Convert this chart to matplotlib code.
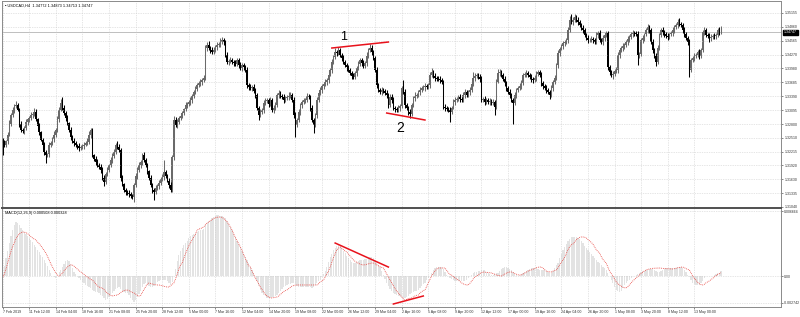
import matplotlib.pyplot as plt
import numpy as np

plt.rcParams['font.family'] = ['Liberation Sans', 'DejaVu Sans']

chart_title = "\u25aa USDCAD,H4  1.34772 1.34873 1.34713 1.34747"
macd_title = "MACD(12,26,9) 0.000508 0.000328"

# H4 closes, pips above 1.30000
close_pips = [
    240, 236, 244, 257, 280, 299, 310, 318, 320, 310, 280, 267, 266, 272, 284,
    290, 293, 299, 302, 306, 290, 276, 262, 246, 235, 220, 214, 216, 236, 240,
    248, 257, 267, 290, 310, 325, 315, 303, 293, 282, 268, 253, 245, 240, 235,
    233, 229, 231, 233, 236, 240, 242, 257, 267, 214, 206, 200, 193, 188, 183,
    166, 157, 175, 183, 193, 204, 212, 221, 236, 232, 225, 166, 152, 140, 136,
    134, 131, 128, 125, 151, 170, 183, 192, 200, 214, 203, 193, 180, 166, 151,
    140, 136, 144, 148, 155, 163, 168, 178, 170, 160, 151, 140, 210, 289, 278,
    285, 293, 298, 303, 312, 320, 322, 326, 331, 340, 348, 355, 363, 366, 369,
    374, 378, 441, 448, 442, 437, 433, 438, 443, 447, 450, 454, 458, 454, 426,
    412, 414, 416, 412, 409, 407, 416, 405, 399, 405, 400, 395, 363, 358, 356,
    359, 350, 342, 314, 299, 305, 310, 325, 328, 331, 323, 331, 310, 315, 320,
    342, 346, 340, 337, 331, 335, 337, 340, 342, 331, 300, 278, 289, 305, 320,
    327, 330, 331, 339, 337, 315, 289, 278, 299, 331, 345, 352, 360, 365, 369,
    373, 385, 395, 412, 422, 433, 431, 437, 426, 420, 412, 405, 400, 395, 388,
    382, 380, 388, 399, 407, 416, 409, 403, 410, 425, 437, 441, 433, 420, 395,
    363, 352, 348, 352, 350, 346, 342, 320, 338, 331, 314, 312, 310, 314, 318,
    356, 348, 320, 314, 306, 301, 320, 335, 340, 342, 348, 352, 356, 358, 360,
    359, 362, 384, 390, 382, 378, 376, 375, 373, 369, 316, 314, 312, 310, 306,
    315, 327, 331, 333, 337, 334, 331, 342, 348, 342, 348, 352, 365, 378, 382,
    384, 380, 376, 331, 333, 327, 331, 327, 329, 325, 327, 316, 370, 388, 390,
    384, 375, 367, 356, 348, 342, 331, 325, 342, 352, 356, 360, 367, 384, 386,
    388, 384, 380, 376, 373, 378, 386, 390, 384, 367, 360, 356, 352, 348, 342,
    356, 370, 378, 405, 430, 440, 445, 451, 454, 458, 480, 501, 496, 501, 507,
    500, 496, 490, 484, 479, 469, 462, 458, 458, 460, 458, 454, 469, 473, 458,
    454, 462, 469, 472, 401, 390, 384, 386, 392, 395, 426, 437, 441, 445, 448,
    454, 460, 465, 471, 473, 472, 471, 426, 429, 458, 462, 470, 479, 486, 479,
    454, 437, 425, 412, 441, 469, 479, 475, 470, 467, 465, 470, 473, 479, 486,
    490, 496, 492, 490, 479, 470, 462, 454, 395, 416, 420, 424, 426, 433, 424,
    437, 475, 479, 469, 467, 462, 465, 467, 466, 469, 479, 475, 475,
]
first_open = 1.32470

# wick lengths in pips
upper_wick = [
    4, 6, 3, 5, 8, 4, 6, 5, 9, 4, 3, 6, 5, 4, 7, 3, 5, 6, 4, 8,
    5, 3, 6, 4, 5, 7, 4, 3, 6, 5, 4, 8, 5, 6, 7, 9, 12, 5, 4, 6,
    3, 5, 4, 6, 5, 3, 7, 4, 5, 6, 4, 8, 9, 5, 4, 3, 6, 5, 4, 7,
    5, 6, 4, 5, 3, 6, 7, 5, 4, 8, 5, 4, 6, 3, 5, 4, 6, 5, 3, 4,
    6, 5, 7, 4, 5, 6, 4, 5, 3, 6, 4, 5, 7, 4, 6, 5, 6, 26, 5, 4,
    5, 6, 4, 8, 6, 5, 4, 6, 5, 3, 6, 4, 5, 7, 4, 5, 6, 4, 5, 6,
    4, 7, 6, 5, 8, 4, 6, 5, 4, 7, 5, 8, 6, 4, 5, 6, 4, 7, 5, 4,
    6, 5, 4, 7, 5, 4, 6, 5, 3, 6, 4, 5, 7, 4, 5, 6, 4, 5, 7, 4,
    5, 6, 4, 5, 7, 4, 6, 5, 4, 6, 5, 4, 7, 5, 4, 6, 5, 4, 6, 5,
    4, 6, 5, 7, 4, 5, 6, 4, 5, 6, 4, 7, 5, 4, 6, 5, 7, 4, 6, 5,
    8, 5, 7, 4, 5, 6, 4, 5, 6, 4, 5, 7, 4, 5, 6, 4, 5, 6, 4, 7,
    5, 8, 6, 4, 5, 6, 4, 5, 7, 4, 5, 6, 4, 5, 6, 7, 4, 5, 6, 4,
    5, 17, 6, 4, 5, 6, 4, 5, 7, 4, 5, 6, 4, 5, 6, 4, 5, 7, 9, 5,
    6, 4, 5, 6, 4, 5, 7, 4, 5, 6, 4, 5, 6, 4, 5, 7, 4, 5, 6, 4,
    5, 6, 4, 12, 7, 5, 4, 6, 5, 4, 6, 5, 4, 7, 5, 6, 4, 5, 8, 6,
    4, 5, 6, 4, 5, 7, 4, 5, 6, 4, 5, 6, 7, 4, 5, 6, 4, 5, 6, 4,
    5, 7, 4, 5, 6, 4, 5, 6, 4, 5, 6, 4, 7, 5, 6, 4, 5, 6, 4, 5,
    6, 8, 13, 5, 7, 4, 6, 5, 4, 6, 5, 4, 7, 5, 6, 4, 5, 6, 4, 7,
    5, 6, 4, 5, 6, 4, 5, 6, 4, 5, 6, 4, 5, 7, 4, 5, 6, 4, 5, 6,
    4, 5, 6, 4, 5, 6, 4, 5, 7, 4, 5, 6, 4, 5, 6, 4, 5, 6, 4, 5,
    6, 4, 5, 6, 4, 5, 7, 9, 5, 4, 6, 5, 4, 6, 5, 4, 6, 5, 4, 6,
    5, 4, 6, 5, 4, 6, 5, 4, 6, 5, 4, 6, 12,
]
lower_wick = [
    25, 5, 4, 6, 3, 5, 4, 6, 5, 3, 6, 4, 5, 7, 4, 6, 5, 4, 6, 5,
    4, 6, 5, 3, 7, 5, 17, 4, 6, 5, 4, 6, 5, 4, 6, 3, 5, 4, 6, 5,
    4, 6, 5, 7, 4, 5, 6, 4, 5, 6, 3, 5, 4, 6, 5, 4, 7, 5, 4, 6,
    5, 8, 4, 6, 5, 4, 6, 5, 4, 6, 5, 7, 4, 5, 6, 4, 5, 6, 4, 10,
    5, 6, 4, 5, 7, 4, 5, 6, 4, 5, 6, 17, 5, 4, 6, 5, 4, 6, 5, 4,
    6, 5, 4, 6, 5, 7, 4, 5, 6, 4, 5, 6, 4, 5, 7, 4, 5, 6, 4, 5,
    6, 4, 5, 7, 4, 6, 5, 4, 6, 5, 4, 7, 5, 6, 4, 5, 6, 4, 5, 6,
    4, 5, 7, 4, 6, 5, 4, 6, 5, 4, 7, 5, 6, 4, 10, 5, 4, 6, 5, 4,
    6, 5, 4, 7, 5, 4, 6, 5, 4, 6, 5, 4, 6, 5, 4, 7, 25, 5, 4, 6,
    5, 4, 6, 5, 4, 7, 5, 17, 4, 6, 5, 4, 6, 5, 4, 6, 5, 4, 7, 5,
    4, 6, 5, 4, 6, 5, 4, 7, 5, 4, 6, 5, 4, 6, 5, 4, 7, 5, 4, 6,
    5, 4, 6, 5, 4, 7, 5, 4, 6, 5, 4, 6, 5, 4, 7, 5, 6, 4, 5, 6,
    4, 5, 6, 4, 7, 8, 5, 4, 6, 5, 4, 6, 5, 4, 7, 5, 4, 6, 5, 4,
    6, 5, 4, 7, 5, 4, 6, 5, 4, 22, 5, 4, 6, 5, 4, 7, 5, 4, 6, 5,
    4, 6, 5, 4, 7, 5, 4, 6, 5, 4, 6, 5, 4, 7, 5, 4, 17, 5, 4, 6,
    5, 4, 6, 5, 4, 7, 5, 45, 4, 6, 5, 4, 6, 5, 4, 7, 5, 4, 6, 5,
    4, 6, 5, 4, 7, 5, 4, 6, 5, 8, 4, 6, 5, 4, 7, 5, 4, 6, 5, 4,
    6, 5, 4, 7, 5, 4, 6, 5, 4, 6, 5, 4, 7, 5, 4, 6, 5, 4, 6, 5,
    4, 7, 5, 4, 6, 5, 4, 8, 5, 4, 6, 5, 4, 7, 5, 4, 6, 5, 4, 6,
    5, 4, 21, 5, 4, 6, 5, 4, 6, 5, 4, 7, 5, 8, 5, 5, 4, 6, 5, 4,
    6, 5, 4, 7, 5, 4, 6, 5, 4, 6, 5, 4, 7, 15, 5, 4, 6, 5, 4, 6,
    5, 4, 6, 5, 4, 7, 5, 4, 6, 5, 4, 6, 4,
]

# MACD main and signal, in units of 0.00001
macd_main = [
    20, 100, 180, 260, 340, 410, 470, 520, 550, 545, 520, 490, 470, 450, 430, 410, 390, 370, 350, 320,
    297, 270, 245, 220, 190, 160, 133, 100, 65, 30, 0, -15, -20, 0, 40, 60, 90, 120, 150, 164,
    150, 120, 80, 45, 20, 0, -20, -40, -60, -75, -90, -100, -113, -125, -140, -150, -160, -168, -174, -190,
    -210, -230, -246, -235, -215, -195, -174, -155, -135, -118, -113, -130, -150, -165, -172, -174, -195, -225, -250, -266,
    -250, -215, -180, -150, -115, -85, -72, -85, -100, -110, -113, -100, -80, -62, -51, -45, -42, -41, -41, -55,
    -75, -90, -60, 0, 70, 150, 220, 260, 290, 315, 338, 360, 385, 410, 425, 435, 440, 455, 462, 468,
    471, 480, 520, 543, 560, 575, 590, 605, 615, 625, 625, 620, 615, 605, 590, 565, 535, 502, 470, 430,
    395, 360, 330, 297, 260, 225, 195, 164, 130, 95, 60, 31, 0, -50, -100, -143, -170, -190, -210, -225,
    -225, -222, -218, -215, -205, -190, -170, -150, -130, -113, -105, -95, -85, -78, -74, -72, -85, -100, -110, -113,
    -113, -113, -110, -108, -110, -113, -118, -113, -95, -70, -50, -41, -10, 20, 55, 92, 140, 190, 230, 267,
    290, 305, 318, 310, 290, 260, 236, 210, 185, 165, 145, 133, 135, 145, 155, 160, 164, 165, 170, 178,
    184, 190, 190, 184, 165, 135, 110, 92, 50, 10, -35, -72, -100, -130, -150, -174, -185, -195, -205, -210,
    -215, -222, -225, -215, -200, -185, -174, -165, -155, -150, -143, -125, -105, -85, -72, -45, -20, 0, 30, 60,
    80, 92, 95, 95, 92, 70, 40, 15, 0, -20, -35, -45, -51, -55, -55, -53, -52, -51, -51, -40,
    -25, -5, 15, 30, 41, 45, 50, 55, 58, 62, 60, 45, 30, 20, 10, 15, 22, 28, 31, 50,
    70, 85, 92, 88, 80, 70, 62, 45, 25, 10, 0, 10, 20, 31, 40, 55, 65, 75, 80, 82,
    82, 78, 72, 66, 63, 62, 62, 55, 45, 35, 31, 55, 85, 115, 133, 180, 230, 270, 297, 330,
    355, 380, 395, 400, 400, 395, 385, 380, 360, 335, 310, 290, 270, 250, 230, 205, 180, 160, 145, 133,
    115, 95, 78, 62, 30, 0, -41, -75, -110, -143, -155, -164, -150, -125, -95, -72, -55, -38, -20, -5,
    5, 15, 25, 31, 40, 48, 55, 62, 66, 70, 72, 72, 65, 55, 45, 41, 52, 62, 72, 82,
    82, 82, 82, 82, 84, 86, 88, 90, 92, 80, 60, 41, 15, -15, -45, -72, -80, -88, -92, -92,
    -75, -50, -20, 0, 5, 5, 2, 0, 10, 20, 28, 35, 51,
]
macd_signal = [
    -20, 20, 70, 130, 190, 250, 300, 340, 380, 410, 430, 445, 451, 450, 445, 435, 420, 405, 390, 380,
    369, 350, 330, 310, 285, 260, 236, 200, 165, 125, 92, 60, 30, 10, 0, 10, 30, 55, 75, 92,
    105, 113, 113, 100, 85, 70, 55, 42, 31, 15, 0, -12, -25, -35, -41, -60, -80, -100, -113, -120,
    -123, -140, -160, -175, -190, -200, -205, -200, -197, -195, -185, -170, -158, -150, -145, -143, -150, -160, -168, -174,
    -185, -198, -205, -200, -170, -140, -110, -85, -72, -76, -82, -86, -90, -92, -92, -95, -100, -106, -110, -113,
    -113, -100, -85, -72, -30, 20, 70, 115, 133, 180, 230, 270, 310, 340, 369, 400, 430, 471, 480, 488,
    492, 505, 525, 543, 555, 568, 580, 590, 598, 602, 605, 605, 600, 590, 575, 555, 530, 502, 470, 430,
    395, 360, 330, 297, 260, 220, 180, 140, 105, 92, 50, 15, -20, -50, -80, -113, -140, -165, -190, -205,
    -215, -225, -225, -222, -218, -215, -205, -190, -175, -160, -150, -143, -130, -118, -105, -98, -94, -92, -92, -92,
    -92, -92, -92, -92, -92, -92, -92, -92, -92, -92, -80, -60, -50, -41, -10, 20, 50, 92, 140, 190,
    230, 267, 285, 297, 285, 270, 255, 246, 225, 205, 185, 164, 150, 140, 130, 122, 116, 113, 115, 120,
    126, 130, 133, 133, 125, 115, 105, 95, 88, 82, 50, 20, -10, -41, -72, -100, -130, -154, -174, -195,
    -215, -235, -246, -240, -232, -228, -225, -215, -205, -198, -195, -175, -160, -150, -143, -110, -70, -35, 0, 25,
    50, 70, 82, 82, 82, 82, 82, 60, 35, 15, 10, -5, -20, -30, -41, -55, -70, -80, -88, -92,
    -92, -75, -55, -30, -10, 0, 10, 25, 35, 41, 40, 38, 35, 33, 31, 25, 18, 10, 5, 2,
    0, 10, 20, 30, 38, 41, 41, 35, 25, 18, 12, 10, 10, 20, 30, 40, 50, 58, 62, 70,
    78, 85, 90, 92, 92, 80, 65, 50, 45, 42, 41, 50, 55, 62, 85, 110, 140, 164, 190, 230,
    270, 300, 320, 328, 350, 370, 385, 395, 400, 400, 398, 390, 375, 360, 345, 328, 300, 270, 250, 236,
    200, 170, 150, 133, 90, 50, 25, 0, -30, -60, -80, -92, -105, -115, -120, -123, -110, -90, -70, -51,
    -35, -20, -5, 10, 25, 40, 52, 62, 68, 72, 76, 79, 80, 81, 82, 82, 80, 78, 76, 75,
    74, 73, 72, 72, 75, 80, 84, 88, 91, 92, 85, 75, 68, 62, 30, 0, -25, -41, -65, -80,
    -88, -92, -85, -70, -60, -51, -38, -25, -12, 0, 15, 25, 33,
]

time_labels = [
    "7 Feb 2019", "11 Feb 12:00", "14 Feb 04:00", "18 Feb 16:00", "21 Feb 08:00",
    "25 Feb 20:00", "28 Feb 12:00", "5 Mar 00:00", "7 Mar 16:00", "12 Mar 04:00",
    "14 Mar 20:00", "19 Mar 08:00", "22 Mar 00:00", "26 Mar 12:00", "29 Mar 04:00",
    "2 Apr 16:00", "5 Apr 08:00", "9 Apr 20:00", "12 Apr 12:00", "17 Apr 00:00",
    "19 Apr 16:00", "24 Apr 04:00", "26 Apr 20:00", "1 May 08:00", "3 May 20:00",
    "8 May 12:00", "13 May 00:00",
]
bars_per_label = 16

price_ticks = [1.35155, 1.34860, 1.34565, 1.34270, 1.33980, 1.33685, 1.33390, 1.33095,
               1.32800, 1.32510, 1.32215, 1.31920, 1.31630, 1.31335, 1.31040]
price_range = (1.31018, 1.35409)
last_price = 1.34747
macd_ticks = [0.006664, 0.0, -0.002742]
macd_range = (-0.00318, 0.00687)

# hand-drawn trend lines: (bar, value)
trend_price_1 = [(198, 1.34412), (232, 1.34539)]
trend_price_2 = [(231, 1.33033), (254, 1.32885)]
trend_macd_1 = [(200, 0.00338), (232, 0.00092)]
trend_macd_2 = [(235, -0.00287), (253, -0.00205)]
label_1 = (205, 1.34645)
label_2 = (239, 1.32715)

close = 1.3 + np.array(close_pips) / 1e4
opn = np.concatenate([[first_open], close[:-1]])
high = np.maximum(opn, close) + np.array(upper_wick) / 1e4
low = np.minimum(opn, close) - np.array(lower_wick) / 1e4
macd = np.array(macd_main) / 1e5
signal = np.array(macd_signal) / 1e5
idx = np.arange(len(close))

fig = plt.figure(figsize=(8, 3.17), dpi=100)
ax = fig.add_axes([0.002, 0.3438, 0.974, 0.653])
ax2 = fig.add_axes([0.002, 0.0315, 0.974, 0.3092], sharex=ax)

grid_kw = dict(color='#cccccc', linestyle=(0, (1, 1.5)), linewidth=0.5)
xt = np.arange(len(time_labels)) * bars_per_label

# candles
bull = close >= opn
colors = np.where(bull, '#6a6a6a', '#000000')
ax.vlines(idx, low, high, colors=colors, linewidth=0.75)
ax.bar(idx, np.maximum(np.abs(close - opn), 0.00003), bottom=np.minimum(opn, close),
       width=0.85, color=colors, linewidth=0)
ax.axhline(last_price, color='#b4b4b4', linewidth=0.6, zorder=0)

ax.set_xlim(-0.6, 468)
ax.set_ylim(*price_range)
ax.set_yticks(price_ticks)
ax.set_yticklabels([f"{p:.5f}" for p in price_ticks])
ax.yaxis.tick_right()
ax.tick_params(axis='y', labelsize=2.5, length=1.5, width=0.4, pad=1, colors='#303030')
ax.tick_params(axis='x', labelbottom=False, length=0)
ax.set_xticks(xt)
ax.grid(True, **grid_kw)
ax.text(1.004, last_price, "1.34747", transform=ax.get_yaxis_transform(), fontsize=2.5,
        color='white', va='center', ha='left',
        bbox=dict(boxstyle='square,pad=0.2', fc='black', ec='black'))
ax.text(0.004, 0.988, chart_title, transform=ax.transAxes, fontsize=2.8, va='top', ha='left')

for seg in (trend_price_1, trend_price_2):
    ax.plot([p[0] for p in seg], [p[1] for p in seg], color='#e8121c', linewidth=1.1)
ax.text(*label_1, "1", fontsize=9, ha='center', va='center')
ax.text(*label_2, "2", fontsize=10, ha='center', va='center')

# MACD window
ax2.bar(idx, macd, width=0.75, color='#e3e3e3', linewidth=0)
ax2.plot(idx, signal, color='#e8403a', linewidth=0.6, linestyle=(0, (1, 1.2)))
for seg in (trend_macd_1, trend_macd_2):
    ax2.plot([p[0] for p in seg], [p[1] for p in seg], color='#e8121c', linewidth=1.1)
ax2.set_ylim(*macd_range)
ax2.set_yticks(macd_ticks)
ax2.set_yticklabels(["0.006664", "0.00", "-0.002742"])
ax2.yaxis.tick_right()
ax2.tick_params(axis='y', labelsize=2.5, length=1.5, width=0.4, pad=1, colors='#303030')
ax2.set_xticks(xt)
ax2.set_xticklabels(time_labels, ha='left')
ax2.tick_params(axis='x', labelsize=2.6, length=1.5, width=0.4, pad=1, colors='#303030')
ax2.grid(True, **grid_kw)
ax2.text(0.004, 0.975, macd_title, transform=ax2.transAxes, fontsize=2.8, va='top', ha='left')

for a in (ax, ax2):
    for s in a.spines.values():
        s.set_color('#8a8a8a')
        s.set_linewidth(0.7)
ax.spines['bottom'].set_color('#505050')
ax.spines['bottom'].set_linewidth(1.4)
ax2.spines['top'].set_visible(False)

fig.savefig('out.png', dpi=100, facecolor='white')
